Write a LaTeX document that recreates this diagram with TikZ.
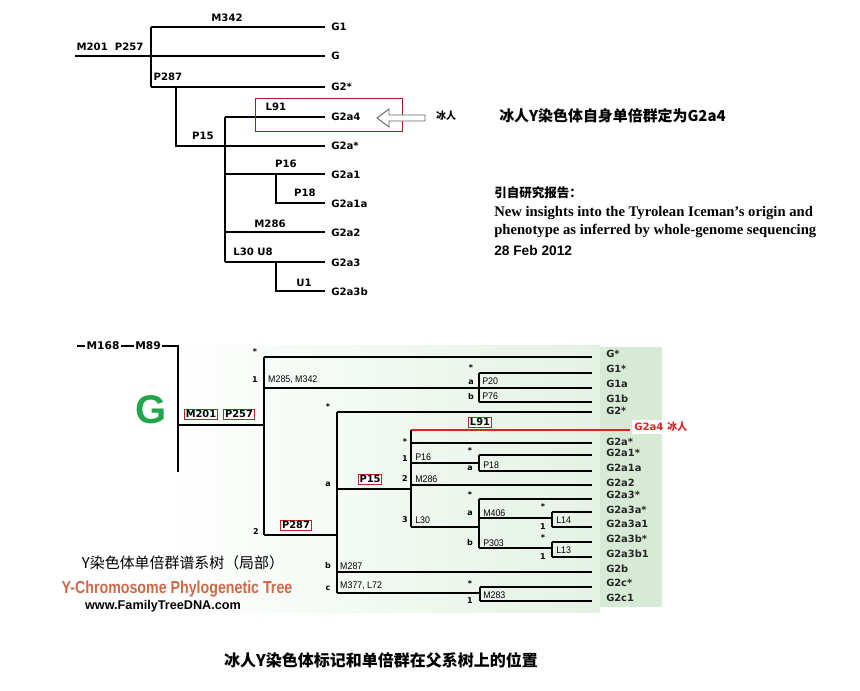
\documentclass[tikz,border=0pt]{standalone}
\usepackage{fontspec}
\setmainfont{DejaVu Sans}
\newfontfamily\cjk{Noto Sans CJK SC}
\newfontfamily\djv{DejaVu Sans}
\newfontfamily\lib{Liberation Sans}
\newfontfamily\tnr{Liberation Serif}
\definecolor{boxred}{RGB}{180,40,40}
\definecolor{icered}{RGB}{220,35,35}
\definecolor{bigG}{RGB}{35,165,75}
\definecolor{panelgreen}{RGB}{214,234,214}
\definecolor{midgreen}{RGB}{228,242,228}
\definecolor{orangebrown}{RGB}{205,105,70}
\tikzset{
  tl/.style={line width=1.9pt},
  bl/.style={line width=1.5pt},
  tlab/.style={font=\djv\bfseries\fontsize{7.6}{9}\selectfont, inner sep=0pt},
  tleaf/.style={font=\djv\bfseries\fontsize{7.6}{9}\selectfont, inner sep=0pt, anchor=west},
  bleaf/.style={font=\djv\bfseries\fontsize{7.4}{9}\selectfont, inner sep=0pt, anchor=west, text=black!85},
  blab/.style={font=\djv\bfseries\fontsize{6}{7}\selectfont, inner sep=0pt},
  mlab/.style={font=\lib\fontsize{7.2}{8}\selectfont, inner sep=0pt, anchor=west, xscale=0.92},
  boxed/.style={draw=boxred, line width=0.6pt, fill=white, inner sep=1pt, font=\djv\bfseries\fontsize{7.4}{9}\selectfont},
}
\begin{document}
\begin{tikzpicture}[x=0.75pt,y=-0.75pt]
\useasboundingbox (0,0) rectangle (860,690);
\fill[white] (0,0) rectangle (860,690);

% ================= TOP TREE =================
\draw[tl] (75,56) -- (325,56);
\draw[tl] (151,27) -- (151,87);
\draw[tl] (151,27) -- (325,27);
\draw[tl] (151,87) -- (325,87);
\draw[tl] (176,87) -- (176,146) -- (325,146);
\draw[tl] (225,117) -- (225,262);
\draw[tl] (225,117) -- (325,117);
\draw[tl] (225,174) -- (325,174);
\draw[tl] (276,174) -- (276,203) -- (325,203);
\draw[tl] (225,232) -- (325,232);
\draw[tl] (225,262) -- (325,262);
\draw[tl] (276,262) -- (276,291) -- (325,291);

\node[tlab] (tM201) at (110,47) {M201\ \ P257};
\node[tlab] (tM342) at (227,18) {M342};
\node[tlab] (tP287) at (168,77) {P287};
\node[tlab] (tP15) at (203,136) {P15};
\node[tlab] (tL91) at (276,107) {L91};
\node[tlab] (tP16) at (286,164) {P16};
\node[tlab] (tP18) at (305,193) {P18};
\node[tlab] (tM286) at (270,224) {M286};
\node[tlab] (tL30) at (253,252) {L30 U8};
\node[tlab] (tU1) at (304,283) {U1};

\node[tleaf] (lG1) at (331,27) {G1};
\node[tleaf] (lG) at (331,56) {G};
\node[tleaf] (lG2s) at (331,87) {G2*};
\node[tleaf] (lG2a4) at (331,117) {G2a4};
\node[tleaf] (lG2as) at (331,146) {G2a*};
\node[tleaf] (lG2a1) at (331,175) {G2a1};
\node[tleaf] (lG2a1a) at (331,204) {G2a1a};
\node[tleaf] (lG2a2) at (331,233) {G2a2};
\node[tleaf] (lG2a3) at (331,263) {G2a3};
\node[tleaf] (lG2a3b) at (331,292) {G2a3b};

% red frame and hollow arrow
\draw[boxred!85!black, line width=0.7pt] (255,98) rectangle (402,131);
\draw[black!60, line width=0.7pt, fill=white] (377,118) -- (389,109) -- (389,115) -- (425,115) -- (425,121) -- (389,121) -- (389,127) -- cycle;
\node[font=\cjk\bfseries\fontsize{7.5}{9}\selectfont, inner sep=0pt] (tIce) at (446,116) {冰人};

% right texts
\node[font=\cjk\bfseries\fontsize{11.2}{13}\selectfont, anchor=west, inner sep=0pt] (tTitle) at (499,116) {冰人Y染色体自身单倍群定为G2a4};
\node[font=\cjk\bfseries\fontsize{9.4}{11}\selectfont, anchor=west, inner sep=0pt] (tCite) at (494,193) {引自研究报告：};
\node[font=\tnr\bfseries\fontsize{11}{12}\selectfont, anchor=west, inner sep=0pt] (tRef1) at (494,213) {New insights into the Tyrolean Iceman’s origin and};
\node[font=\tnr\bfseries\fontsize{11}{12}\selectfont, anchor=west, inner sep=0pt] (tRef2) at (494,231) {phenotype as inferred by whole-genome sequencing};
\node[font=\lib\bfseries\fontsize{10.3}{12}\selectfont, anchor=west, inner sep=0pt] (tDate) at (494,251) {28 Feb 2012};

% ================= BOTTOM TREE =================
\shade[left color=white, right color=midgreen] (160,345) rectangle (600,612);
\fill[panelgreen] (600,347) rectangle (662,607);

\node[font=\djv\bfseries\fontsize{8}{9}\selectfont, inner sep=1pt] (bM168) at (103,346) {M168};
\node[font=\djv\bfseries\fontsize{8}{9}\selectfont, inner sep=1pt] (bM89) at (148,346) {M89};
\coordinate (bstart) at (77,346);
\coordinate (bcorner) at (178,346);
\draw[bl] (bstart) -- (bM168.west);
\draw[bl] (bM168.east) -- (bM89.west);
\draw[bl] (bM89.east) -- (bcorner) -- (178,472);

\draw[bl] (178,425) -- (264,425);
\draw[bl] (264,357) -- (264,535);
\draw[bl] (264,357) -- (592,357);
\draw[bl] (264,388) -- (592,388);
\draw[bl] (479,373) -- (479,402);
\draw[bl] (479,373) -- (592,373);
\draw[bl] (479,402) -- (592,402);
\draw[bl] (264,535) -- (337,535);
\draw[bl] (337,412) -- (337,593);
\draw[bl] (337,412) -- (592,412);
\draw[bl] (337,489) -- (411,489);
\draw[bl, icered] (411,430) -- (630,430);
\draw[bl] (411,430) -- (411,527);
\draw[bl] (411,443) -- (592,443);
\draw[bl] (411,463) -- (479,463);
\draw[bl] (479,455) -- (479,471);
\draw[bl] (479,455) -- (592,455);
\draw[bl] (479,471) -- (592,471);
\draw[bl] (411,485) -- (592,485);
\draw[bl] (411,527) -- (479,527);
\draw[bl] (479,499) -- (479,548);
\draw[bl] (479,499) -- (592,499);
\draw[bl] (479,518) -- (552,518);
\draw[bl] (552,512) -- (552,527);
\draw[bl] (552,512) -- (592,512);
\draw[bl] (552,527) -- (592,527);
\draw[bl] (479,548) -- (552,548);
\draw[bl] (552,542) -- (552,557);
\draw[bl] (552,542) -- (592,542);
\draw[bl] (552,557) -- (592,557);
\draw[bl] (337,572) -- (592,572);
\draw[bl] (337,593) -- (480,593);
\draw[bl] (480,587) -- (480,601);
\draw[bl] (480,587) -- (592,587);
\draw[bl] (480,601) -- (592,601);

% big G
\node[font=\lib\bfseries\fontsize{30}{32}\selectfont, text=bigG, inner sep=0pt] (bigG) at (151,410) {G};

% boxed markers
\node[boxed] (bM201) at (201,414) {M201};
\node[boxed] (bP257) at (239,414) {P257};
\node[boxed] (bL91) at (480,422) {L91};
\node[boxed] (bP15) at (370,479) {P15};
\node[boxed] (bP287) at (296,525) {P287};

% branch indices
\node[blab] at (255,352) {*};
\node[blab] at (255,380) {1};
\node[blab] at (256,532) {2};
\node[blab] at (471,368) {*};
\node[blab] at (471,382) {a};
\node[blab] at (471,397) {b};
\node[blab] at (328,407) {*};
\node[blab] at (328,484) {a};
\node[blab] at (328,566) {b};
\node[blab] at (328,588) {c};
\node[blab] at (405,442) {*};
\node[blab] at (405,459) {1};
\node[blab] at (405,479) {2};
\node[blab] at (405,520) {3};
\node[blab] at (470,451) {*};
\node[blab] at (470,468) {a};
\node[blab] at (470,495) {*};
\node[blab] at (470,513) {a};
\node[blab] at (470,543) {b};
\node[blab] at (543,507) {*};
\node[blab] at (543,527) {1};
\node[blab] at (543,538) {*};
\node[blab] at (543,557) {1};
\node[blab] at (470,584) {*};
\node[blab] at (470,601) {1};

% marker labels
\node[mlab] at (268,380) {M285, M342};
\node[mlab] at (482,381) {P20};
\node[mlab] at (482,396) {P76};
\node[mlab] at (415,457) {P16};
\node[mlab] at (483,465) {P18};
\node[mlab] at (415,479) {M286};
\node[mlab] at (415,520) {L30};
\node[mlab] at (483,513) {M406};
\node[mlab] at (556,520) {L14};
\node[mlab] at (483,543) {P303};
\node[mlab] at (556,550) {L13};
\node[mlab] at (340,566) {M287};
\node[mlab] at (340,586) {M377, L72};
\node[mlab] at (483,595) {M283};

% leaves
\node[bleaf] at (606,354) {G*};
\node[bleaf] at (606,369) {G1*};
\node[bleaf] at (606,384) {G1a};
\node[bleaf] at (606,399) {G1b};
\node[bleaf] at (606,411) {G2*};
\node[bleaf] at (606,442) {G2a*};
\node[bleaf] at (606,453) {G2a1*};
\node[bleaf] at (606,468) {G2a1a};
\node[bleaf] at (606,483) {G2a2};
\node[bleaf] at (606,495) {G2a3*};
\node[bleaf] at (606,510) {G2a3a*};
\node[bleaf] at (606,524) {G2a3a1};
\node[bleaf] at (606,539) {G2a3b*};
\node[bleaf] at (606,554) {G2a3b1};
\node[bleaf] at (606,569) {G2b};
\node[bleaf] at (606,583) {G2c*};
\node[bleaf] at (606,598) {G2c1};

\node[fill=white, inner sep=1.5pt, anchor=west, text=icered, font=\djv\bfseries\fontsize{7.6}{9}\selectfont] (bIce) at (632,427) {G2a4 {\cjk\bfseries 冰人}};

% legend
\node[font=\cjk\fontsize{11.2}{13}\selectfont, inner sep=0pt] (legCN) at (183,563) {Y染色体单倍群谱系树（局部）};
\node[font=\lib\bfseries\fontsize{13}{15}\selectfont, text=orangebrown, inner sep=0pt, xscale=0.82] (legEN) at (177,589) {Y-Chromosome Phylogenetic Tree};
\node[font=\lib\bfseries\fontsize{9.5}{11}\selectfont, inner sep=0pt] (legURL) at (163,606) {www.FamilyTreeDNA.com};

% bottom title
\node[font=\cjk\bfseries\fontsize{12}{14}\selectfont, inner sep=0pt] (bTitle) at (381,660) {冰人Y染色体标记和单倍群在父系树上的位置};
\end{tikzpicture}
\end{document}
